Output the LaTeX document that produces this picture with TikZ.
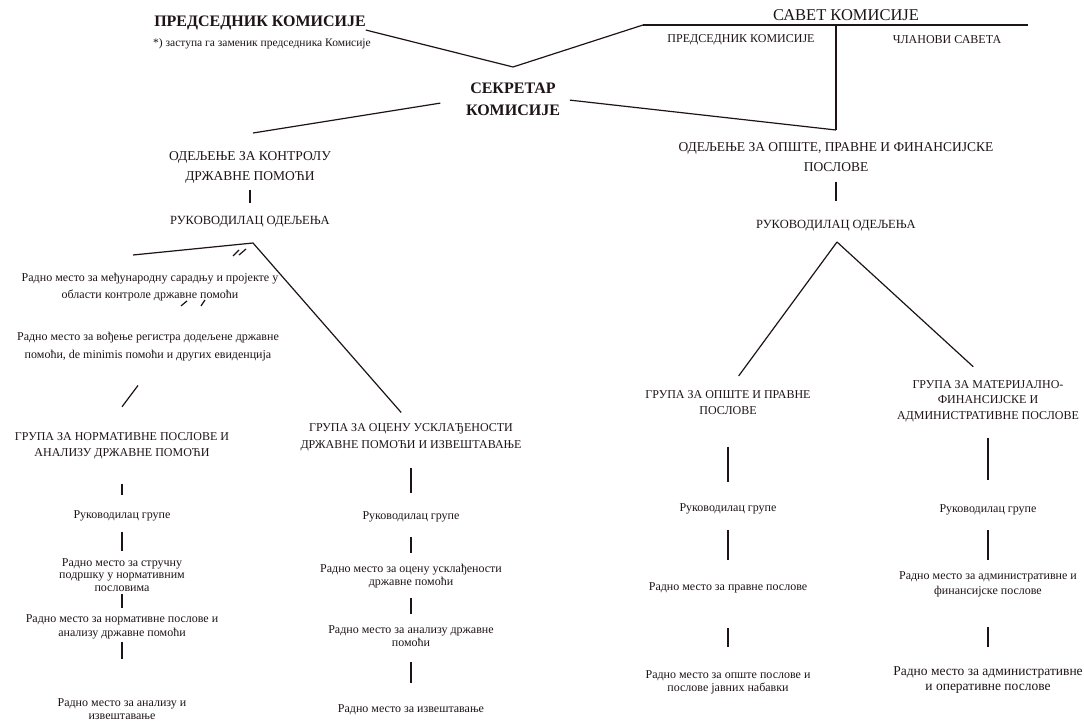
\documentclass[tikz,border=0pt]{standalone}
\usepackage{fontspec}
\setmainfont{Liberation Serif}
\definecolor{ink}{HTML}{1E1418}

\begin{document}
\begin{tikzpicture}[x=1pt, y=-1pt, inner sep=0pt, outer sep=0pt,
    every node/.style={text=ink, align=center},
    boss/.style={font=\bfseries\fontsize{16}{22}\selectfont},
    council/.style={font=\fontsize{16.5}{18}\selectfont},
    member/.style={font=\fontsize{12}{14}\selectfont},
    dept/.style={font=\fontsize{13.5}{20}\selectfont},
    deptboss/.style={font=\fontsize{12.5}{14}\selectfont},
    grp/.style={font=\fontsize{12}{#1}\selectfont}, grp/.default=15,
    job/.style={font=\fontsize{12}{#1}\selectfont}, job/.default=13,
    link/.style={draw=ink, line width=1.2pt},
    vline/.style 2 args={link, shorten <=#1pt, shorten >=#2pt}]
      \fill[white] (0,0) rectangle (1084,722);
      \useasboundingbox (0,0) rectangle (1084,722);
      \node[boss] (x1) at (260,23) {ПРЕДСЕДНИК КОМИСИЈЕ};
      \node[font=\fontsize{11.5}{12}\selectfont] (x2) at (262,44) {*) заступа га заменик председника Комисије};
      \node[council] (x3) at (846,15) {САВЕТ КОМИСИЈЕ};
      \node[member] (x4) at (741,40) {ПРЕДСЕДНИК КОМИСИЈЕ};
      \node[member] (x5) at (947,40) {ЧЛАНОВИ САВЕТА};
      \node[boss] (x6) at (513,99) {СЕКРЕТАР\\КОМИСИЈЕ};
      \node[dept] (x7) at (250,167) {ОДЕЉЕЊЕ ЗА КОНТРОЛУ\\ДРЖАВНЕ ПОМОЋИ};
      \node[deptboss] (x8) at (250,222) {РУКОВОДИЛАЦ ОДЕЉЕЊА};
      \node[dept] (x9) at (836,157) {ОДЕЉЕЊЕ ЗА ОПШТЕ, ПРАВНЕ И ФИНАНСИЈСКЕ\\ПОСЛОВЕ};
      \node[deptboss] (x10) at (836,226) {РУКОВОДИЛАЦ ОДЕЉЕЊА};
      \node[job=17] (x11) at (150,287) {Радно место за међународну сарадњу и пројекте у\\области контроле државне помоћи};
      \node[job=18] (x12) at (148,347) {Радно место за вођење регистра додељене државне\\помоћи, de minimis помоћи и других евиденција};
      \node[grp=16] (x13) at (122,446) {ГРУПА ЗА НОРМАТИВНЕ ПОСЛОВЕ И\\АНАЛИЗУ ДРЖАВНЕ ПОМОЋИ};
      \node[job] (x14) at (122,516) {Руководилац групе};
      \node[job=12.5] (x15) at (122,575) {Радно место за стручну\\подршку у нормативним\\пословима};
      \node[job=14] (x16) at (122,627) {Радно место за нормативне послове и\\анализу државне помоћи};
      \node[job] (x17) at (122,709.5) {Радно место за анализу и\\извештавање};
      \node[grp=17] (x18) at (411,437.5) {ГРУПА ЗА ОЦЕНУ УСКЛАЂЕНОСТИ\\ДРЖАВНЕ ПОМОЋИ И ИЗВЕШТАВАЊЕ};
      \node[job] (x19) at (411,517) {Руководилац групе};
      \node[job] (x20) at (411,576.5) {Радно место за оцену усклађености\\државне помоћи};
      \node[job] (x21) at (411,636.5) {Радно место за анализу државне\\помоћи};
      \node[job] (x22) at (411,710) {Радно место за извештавање};
      \node[grp=16] (x23) at (728,402.5) {ГРУПА ЗА ОПШТЕ И ПРАВНЕ\\ПОСЛОВЕ};
      \node[job] (x24) at (728,509) {Руководилац групе};
      \node[job] (x25) at (728,588) {Радно место за правне послове};
      \node[job] (x26) at (728,682.5) {Радно место за опште послове и\\послове јавних набавки};
      \node[grp=15.5] (x27) at (988,401) {ГРУПА ЗА МАТЕРИЈАЛНО-\\ФИНАНСИЈСКЕ И\\АДМИНИСТРАТИВНЕ ПОСЛОВЕ};
      \node[job] (x28) at (988,510) {Руководилац групе};
      \node[job=15] (x29) at (988,584.5) {Радно место за административне и\\финансијске послове};
      \node[font=\fontsize{13.5}{15}\selectfont] (x30) at (988,680.5) {Радно место за административне\\и оперативне послове};
      \coordinate (v) at (513,67);
      \coordinate (c1) at (643,25);
      \coordinate (c2) at (1028,25);
      \coordinate (c3) at (836,25);
      \coordinate (c4) at (836,130);
      \coordinate (s1) at (253,133);
      \coordinate (a) at (253,243);
      \coordinate (b) at (133,255);
      \coordinate (q) at (837,242);
      \draw[link] (x1.south east) -- (v) -- (c1);
      \draw[link] (c1) -- (c2);
      \draw[link] (c3) -- (c4);
      \draw[link, shorten <=26pt] (x6.west) -- (s1);
      \draw[link, shorten <=10pt] (x6.east) -- (c4);
      \draw[vline={7}{14}] (x7) -- (x8);
      \draw[vline={10}{20}] (x9) -- (x10);
      \draw[link, shorten >=15pt] (b) -- (a) -- (x18.north);
      \draw[link] ([shift={(-7,6)}]a) -- ++(-7,6);
      \draw[link] ([shift={(-14,7)}]a) -- ++(-6,6);
      \draw[link] ([shift={(37,0)}]x11.south) -- ++(-6,5);
      \draw[link] ([shift={(55,-1)}]x11.south) -- ++(-4,6);
      \draw[link] ([shift={(-10,24)}]x12.south) -- ([shift={(0,-26)}]x13.north);
      \draw[vline={25}{16}] (x13) -- (x14);
      \draw[vline={11}{8}] (x14) -- (x15);
      \draw[vline={3}{7}] (x15) -- (x16);
      \draw[vline={3}{40}] (x16) -- (x17);
      \draw[vline={17}{19}] (x18) -- (x19);
      \draw[vline={15}{12}] (x19) -- (x20);
      \draw[vline={10}{12}] (x20) -- (x21);
      \draw[vline={15}{22}] (x21) -- (x22);
      \draw[link, shorten >=18pt] (q) -- (x23.north);
      \draw[link, shorten >=20pt] (q) -- (x27.north);
      \draw[vline={32}{22}] (x23) -- (x24);
      \draw[vline={16}{23}] (x24) -- (x25);
      \draw[vline={35}{24}] (x25) -- (x26);
      \draw[vline={16}{25}] (x27) -- (x28);
      \draw[vline={15}{12}] (x28) -- (x29);
      \draw[vline={30}{20}] (x29) -- (x30);
    \end{tikzpicture}
\end{document}
